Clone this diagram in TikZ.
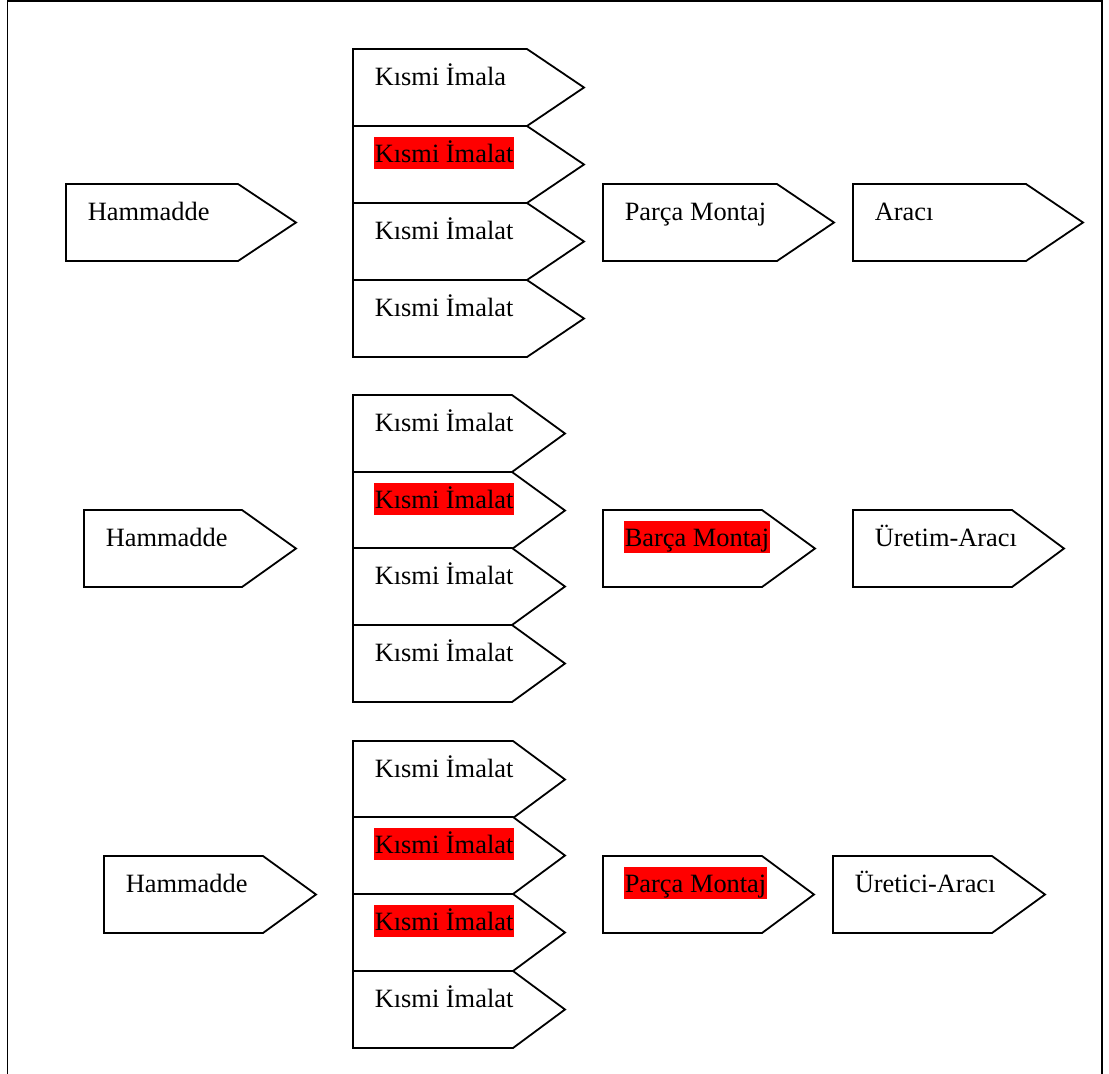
\documentclass[tikz,border=0pt]{standalone}
\usepackage{fontspec}
\setmainfont{Liberation Serif}

% Pentagon arrow box: name, left, top, body right, tip x, text style, text
\newcommand\pbox[7]{%
  \draw[boxline] (#2,#3) -- (#4,#3) -- (#5,#3+38.5) -- (#4,#3+77) -- (#2,#3+77) -- cycle;
  \node[#6] (#1) at (#2+20.3,#3+36) {#7};
}

\begin{document}
\begin{tikzpicture}[x=1pt, y=-1pt, line width=1.8pt, line join=miter,
  boxline/.style={draw=black, fill=white},
  txt/.style={anchor=base west, inner xsep=0.6pt, inner ysep=0pt,
    text height=25pt, text depth=7pt, font=\fontsize{26.4}{30}\selectfont},
  hilite/.style={txt, fill=red}]

\useasboundingbox (0,0) rectangle (1109,1074);

% outer frame (open at the bottom)
\draw (7.5,1080) -- (7.5,1) -- (1102,1) -- (1102,1080);

% ---- first row ----
\pbox{h1}{66}{184}{238}{296}{txt}{Hammadde}
\pbox{s11}{353}{49}{527}{584}{txt}{Kısmi İmala}
\pbox{s12}{353}{126}{527}{584}{hilite}{Kısmi İmalat}
\pbox{s13}{353}{203}{527}{584}{txt}{Kısmi İmalat}
\pbox{s14}{353}{280}{527}{584}{txt}{Kısmi İmalat}
\pbox{pm1}{603}{184}{777}{834}{txt}{Parça Montaj}
\pbox{a1}{853}{184}{1026}{1083}{txt}{Aracı}

% ---- second row ----
\pbox{h2}{84}{510}{242}{296}{txt}{Hammadde}
\pbox{s21}{353}{395}{512}{565}{txt}{Kısmi İmalat}
\pbox{s22}{353}{472}{512}{565}{hilite}{Kısmi İmalat}
\pbox{s23}{353}{548}{512}{565}{txt}{Kısmi İmalat}
\pbox{s24}{353}{625}{512}{565}{txt}{Kısmi İmalat}
\pbox{pm2}{603}{510}{762}{815}{hilite}{Barça Montaj}
\pbox{a2}{853}{510}{1012}{1064}{txt}{Üretim-Aracı}

% ---- third row ----
\pbox{h3}{104}{856}{263}{316}{txt}{Hammadde}
\pbox{s31}{353}{741}{513}{565}{txt}{Kısmi İmalat}
\pbox{s32}{353}{817}{513}{565}{hilite}{Kısmi İmalat}
\pbox{s33}{353}{894}{513}{565}{hilite}{Kısmi İmalat}
\pbox{s34}{353}{971}{513}{565}{txt}{Kısmi İmalat}
\pbox{pm3}{603}{856}{762}{814}{hilite}{Parça Montaj}
\pbox{a3}{833}{856}{992}{1045}{txt}{Üretici-Aracı}

\end{tikzpicture}
\end{document}
